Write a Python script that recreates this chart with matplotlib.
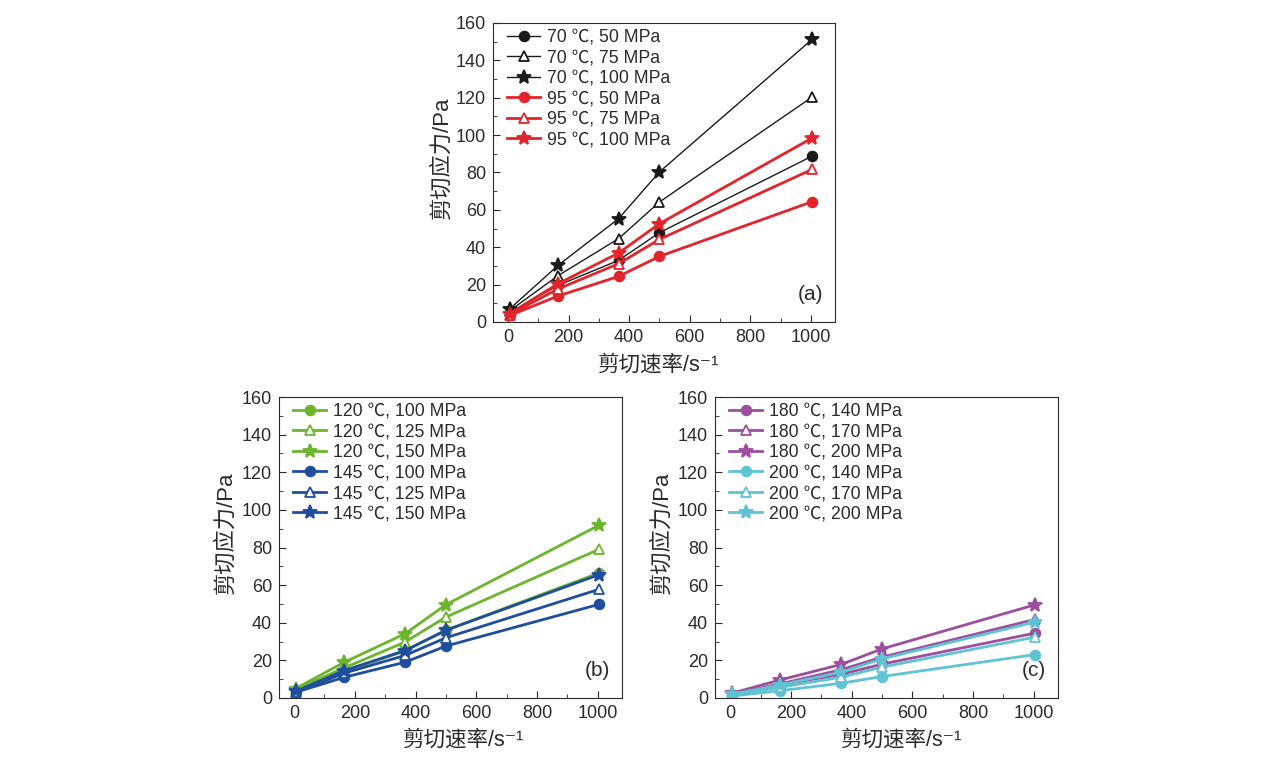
import matplotlib
matplotlib.use('Agg')
import matplotlib.pyplot as plt
from matplotlib.ticker import MultipleLocator

plt.rcParams['font.family'] = ['Liberation Sans', 'Noto Sans CJK SC', 'DejaVu Sans']

# shear rate (1/s)
rate = [5, 165, 365, 500, 1005]

# (a)
a_labels = ['70 ℃, 50 MPa', '70 ℃, 75 MPa', '70 ℃, 100 MPa',
            '95 ℃, 50 MPa', '95 ℃, 75 MPa', '95 ℃, 100 MPa']
a_vals = [[5.0, 19.6, 33.0, 47.8, 88.8],
          [6.0, 24.8, 44.6, 64.2, 120.4],
          [7.0, 30.3, 55.3, 80.3, 151.3],
          [3.5, 13.9, 24.4, 35.1, 64.4],
          [4.0, 17.7, 31.2, 44.2, 81.7],
          [4.5, 20.5, 36.9, 52.6, 98.5]]

# (b)
b_labels = ['120 ℃, 100 MPa', '120 ℃, 125 MPa', '120 ℃, 150 MPa',
            '145 ℃, 100 MPa', '145 ℃, 125 MPa', '145 ℃, 150 MPa']
b_vals = [[4.0, 14.0, 25.0, 36.0, 66.5],
          [4.5, 16.0, 29.7, 43.0, 79.1],
          [5.0, 19.0, 34.1, 49.6, 91.9],
          [3.0, 11.0, 19.0, 27.6, 49.8],
          [3.0, 13.2, 22.6, 32.0, 57.8],
          [3.5, 14.6, 25.2, 36.0, 65.6]]

# (c)
c_labels = ['180 ℃, 140 MPa', '180 ℃, 170 MPa', '180 ℃, 200 MPa',
            '200 ℃, 140 MPa', '200 ℃, 170 MPa', '200 ℃, 200 MPa']
c_vals = [[1.5, 7.0, 12.5, 18.0, 34.5],
          [2.0, 7.5, 15.0, 21.7, 41.8],
          [2.5, 9.6, 17.8, 26.1, 49.6],
          [1.0, 3.9, 7.8, 11.4, 23.1],
          [1.5, 5.7, 11.0, 16.4, 32.4],
          [2.0, 6.9, 13.7, 20.8, 40.4]]

txt = '#2b2b2b'
markers = [('o', 7, True), ('^', 7, False), ('*', 10.5, True)] * 2

fig = plt.figure(figsize=(12.68, 7.58), dpi=100)
ax_a = fig.add_axes([0.3888, 0.5752, 0.2697, 0.3945])
ax_b = fig.add_axes([0.2200, 0.0792, 0.2705, 0.3970])
ax_c = fig.add_axes([0.5639, 0.0792, 0.2705, 0.3970])


def draw(ax, vals, labels, colors, widths, tag, xl_pos, yl_pos):
    for i, (v, lab) in enumerate(zip(vals, labels)):
        m, ms, filled = markers[i]
        col = colors[i // 3]
        ax.plot(rate, v, marker=m, markersize=ms, color=col, lw=widths[i // 3],
                markerfacecolor=col if filled else 'white',
                markeredgecolor=col, markeredgewidth=1.3, label=lab)
    ax.set_xlim(-50, 1080)
    ax.set_ylim(0, 160)
    ax.xaxis.set_major_locator(MultipleLocator(200))
    ax.xaxis.set_minor_locator(MultipleLocator(100))
    ax.yaxis.set_major_locator(MultipleLocator(20))
    ax.yaxis.set_minor_locator(MultipleLocator(10))
    ax.tick_params(which='both', direction='in', colors=txt, labelsize=13, pad=5)
    ax.tick_params(which='major', length=5)
    ax.tick_params(which='minor', length=3)
    for s in ax.spines.values():
        s.set_color(txt)
    ax.set_xlabel('剪切速率/s⁻¹', fontsize=15.5, color=txt)
    ax.set_ylabel('剪切应力/Pa', fontsize=16, color=txt)
    ax.xaxis.set_label_coords(*xl_pos)
    ax.yaxis.set_label_coords(*yl_pos)
    ax.text(0.965, 0.06, tag, transform=ax.transAxes, ha='right', va='bottom',
            fontsize=15, color=txt)
    leg = ax.legend(loc='upper left', bbox_to_anchor=(0.025, 0.998), fontsize=12.7,
                    frameon=False, handlelength=1.9, handletextpad=0.4,
                    labelspacing=0.2, borderaxespad=0.0, borderpad=0.3)
    for t in leg.get_texts():
        t.set_color(txt)


draw(ax_a, a_vals, a_labels, ['#1a1a1a', '#e3242b'], [1.0, 2.0], '(a)',
     (0.484, -0.11), (-0.117, 0.55))
draw(ax_b, b_vals, b_labels, ['#6cb52d', '#1f4e9e'], [2.0, 2.0], '(b)',
     (0.539, -0.106), (-0.122, 0.548))
draw(ax_c, c_vals, c_labels, ['#9d4e9e', '#5fc3d3'], [2.0, 2.0], '(c)',
     (0.544, -0.106), (-0.125, 0.548))

fig.savefig('out.png', dpi=100)
